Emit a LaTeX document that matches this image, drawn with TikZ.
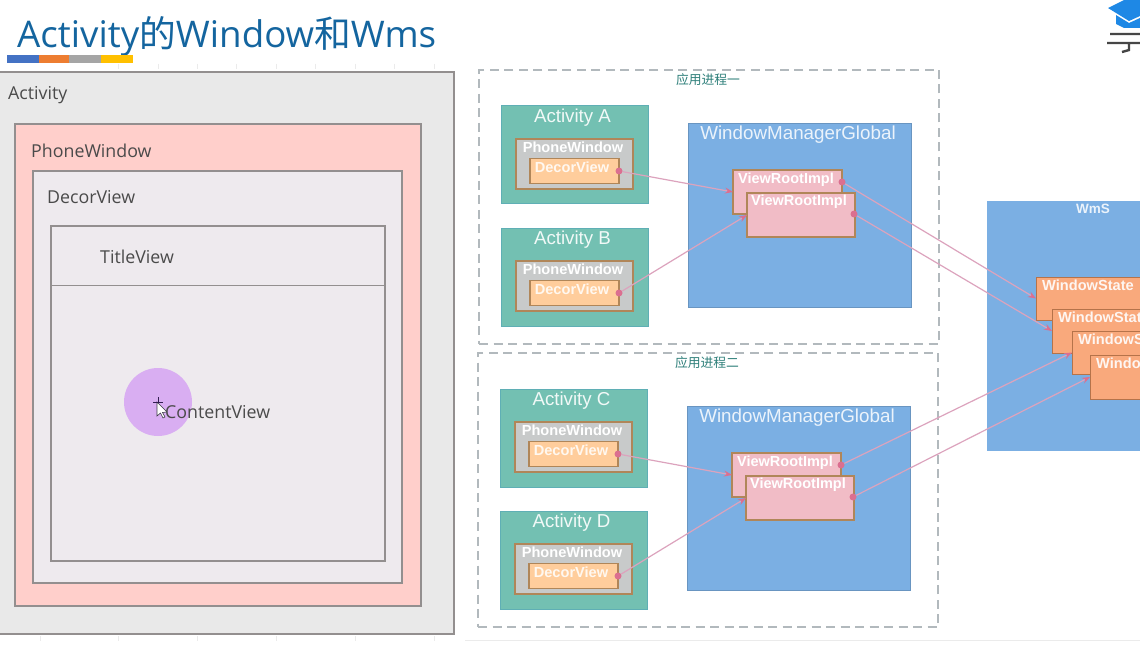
\documentclass[tikz,border=0pt]{standalone}
\usepackage{fontspec}
\setmainfont{Open Sans}
\newfontfamily\cjk{Noto Sans CJK SC}
\newfontfamily\arl{Liberation Sans}
\definecolor{titleblue}{HTML}{14659F}
\definecolor{graypanel}{HTML}{E9E9E9}
\definecolor{pinkpanel}{HTML}{FFCFCB}
\definecolor{lightpanel}{HTML}{EEEAEE}
\definecolor{panelline}{HTML}{938F8F}
\definecolor{labeltext}{HTML}{4A4A4A}
\definecolor{teal}{HTML}{73C0B2}
\definecolor{tealline}{HTML}{5FAFB5}
\definecolor{phonegray}{HTML}{C8CACA}
\definecolor{brownline}{HTML}{B08659}
\definecolor{decor}{HTML}{FFCD9C}
\definecolor{wmblue}{HTML}{7BAFE3}
\definecolor{rootpink}{HTML}{F1BCC6}
\definecolor{wsorange}{HTML}{F9A97C}
\definecolor{wsline}{HTML}{B5734A}
\definecolor{conn}{HTML}{DCA3BD}
\definecolor{dotc}{HTML}{DB6F90}
\definecolor{dashc}{HTML}{B2B9BD}
\definecolor{greentext}{HTML}{2E7F7A}
\usetikzlibrary{arrows.meta}
\tikzset{
  bx/.style={anchor=north west,inner sep=0pt,outer sep=0pt},
  panel/.style={bx,draw=panelline,line width=2.2pt},
  plabel/.style={anchor=west,inner sep=0pt,text=labeltext,font=\fontsize{17.8}{20}\selectfont},
  procbox/.style={bx,draw=dashc,dash pattern=on 9pt off 5.5pt,line width=1.1pt},
  proclabel/.style={inner sep=0pt,text=greentext,font=\cjk\fontsize{12.8}{14}\selectfont},
  actbox/.style={bx,fill=teal,draw=tealline,line width=1pt,minimum width=147pt,minimum height=98pt},
  actlabel/.style={inner sep=0pt,text=white!90!teal,font=\arl\fontsize{18.7}{20}\selectfont},
  phonebox/.style={bx,fill=phonegray,draw=brownline,line width=1.1pt,minimum width=117pt,minimum height=50pt},
  phonelabel/.style={inner sep=0pt,text=white,font=\arl\bfseries\fontsize{14.6}{15}\selectfont},
  decorbox/.style={bx,fill=decor,draw=brownline,line width=1.1pt,minimum width=89pt,minimum height=25pt},
  decorlabel/.style={inner sep=0pt,text=white!85!decor,font=\arl\bfseries\fontsize{14.6}{15}\selectfont},
  wmbox/.style={bx,fill=wmblue,draw=wmblue!85!black,line width=.6pt,minimum width=223pt,minimum height=184pt},
  wmlabel/.style={inner sep=0pt,text=white!85!wmblue,font=\arl\fontsize{18.8}{20}\selectfont},
  rootbox/.style={bx,fill=rootpink,draw=brownline,line width=1.1pt,minimum width=108pt,minimum height=44pt},
  rootlabel/.style={inner sep=0pt,text=white,font=\arl\bfseries\fontsize{14.5}{15}\selectfont},
  wsbox/.style={bx,fill=wsorange,draw=wsline,line width=1pt,minimum width=120pt,minimum height=43pt},
  wslabel/.style={anchor=west,inner sep=0pt,text=white!90!wsorange,font=\arl\bfseries\fontsize{14.6}{15}\selectfont},
  pdot/.style={circle,fill=dotc,inner sep=0pt,minimum size=7pt},
  link/.style={conn,line width=1.2pt,-{Stealth[length=8pt,width=6pt,color=dotc]}},
  tick/.style={black!8,line width=.7pt}
}
\begin{document}
\begin{tikzpicture}[x=1pt,y=-1pt]
\useasboundingbox (0,0) rectangle (1140,647);
\clip (0,0) rectangle (1140,647);
\fill[white] (0,0) rectangle (1140,647);
% faint page edge and ruler ticks
\draw[black!8,line width=.8pt] (465,640) -- (1140,640);
\foreach \xx in {118,158,197,236,276,315,355,394,434}{\draw[tick] (\xx,64) -- (\xx,69);}
\foreach \xx in {40,118,197,276,355,434}{\draw[tick] (\xx,636) -- (\xx,641);}
% title
\node[anchor=west,inner sep=0pt,text=titleblue,font=\fontsize{36.7}{40}\selectfont] (title) at (17,36) {Activity{\cjk 的}Window{\cjk 和}Wms};
\fill[color={rgb,255:red,68;green,114;blue,196}] (7,55) rectangle (39,63);
\fill[color={rgb,255:red,237;green,125;blue,49}] (39,55) rectangle (69,63);
\fill[color={rgb,255:red,165;green,165;blue,165}] (69,55) rectangle (101,63);
\fill[color={rgb,255:red,255;green,192;blue,0}] (101,55) rectangle (133,63);
% logo
\fill[color={rgb,255:red,30;green,136;blue,229}] (1108,8) -- (1124,0) -- (1140,0) -- (1140,16) -- (1129,21) -- cycle;
\fill[color={rgb,255:red,30;green,136;blue,229}] (1116,15) -- (1129,23) -- (1140,18) -- (1140,28) -- (1124,28) -- (1116,24) -- cycle;
\draw[color={rgb,255:red,70;green,70;blue,70},line width=2.4pt] (1110,34) -- (1140,34) (1107,43) -- (1140,43) (1129,43) -- (1129,50) -- (1122,52);
% left panels
\node[panel,fill=graypanel,minimum width=464pt,minimum height=562pt] (activity) at (-10,72) {};
\node[panel,fill=pinkpanel,minimum width=406pt,minimum height=482pt] (phone) at (15,124) {};
\node[panel,fill=lightpanel,minimum width=369pt,minimum height=412pt] (decorpanel) at (33,171) {};
\node[panel,fill=lightpanel,minimum width=334pt,minimum height=335pt] (inner) at (51,226) {};
\draw[panelline,line width=1pt] (inner.west |- 0,285) -- (inner.east |- 0,285);
\node[plabel] (l1) at (8,95) {Activity};
\node[plabel] (l2) at (31,150.5) {PhoneWindow};
\node[plabel] (l3) at (47,197.5) {DecorView};
\node[plabel] (l4) at (100,256.5) {TitleView};
\node[circle,fill={rgb,255:red,217;green,174;blue,242},minimum size=68pt,inner sep=0pt] (spot) at (158,402) {};
\node[plabel] (l5) at (165,412) {ContentView};
% cursor
\draw[color={rgb,255:red,60;green,60;blue,70},fill=white,line width=.6pt] (157,402) -- (157,416) -- (160.5,413) -- (163,418) -- (165,417) -- (162.5,412.5) -- (167,412) -- cycle;
\draw[color={rgb,255:red,50;green,30;blue,80},line width=.8pt] (158,397) -- (158,402) (153,402) -- (163,402);
% process frames
\node[procbox,minimum width=460pt,minimum height=274pt] (p1) at (479,70) {};
\node[procbox,minimum width=460pt,minimum height=274pt] (p2) at (478,353) {};
\node[proclabel] (p1l) at (708,79.5) {应用进程一};
\node[proclabel] (p2l) at (707,362.5) {应用进程二};
% WMS (under the connectors)
\node[bx,fill=wmblue,minimum width=170pt,minimum height=250pt] (wms) at (987,201) {};
\node[inner sep=0pt,text=white!85!wmblue,font=\arl\bfseries\fontsize{13.5}{15}\selectfont] (wmsl) at (1093,208.5) {WmS};
\foreach \n/\xx/\yy/\h in {ws1/1036/277/43,ws2/1052/309/44,ws3/1072/331/43,ws4/1090/355/44}{
  \node[wsbox,minimum height=\h pt] (\n) at (\xx,\yy) {};
  \node[wslabel] (\n l) at (\xx+6,\yy+8) {WindowState};
}
% activity groups
\foreach \n/\l/\dx/\dy in {a/A/0/0,b/B/0/122,c/C/-1/283,d/D/-1/405}{
  \begin{scope}[shift={(\dx,\dy)}]
  \node[actbox] (act\n) at (501,106) {};
  \node[actlabel] (act\n l) at (572.5,118) {Activity \l};
  \node[phonebox] (ph\n) at (516,139) {};
  \node[phonelabel] (ph\n l) at (573,147) {PhoneWindow};
  \node[decorbox] (de\n) at (530,158.5) {};
  \node[decorlabel] (de\n l) at (572,167.5) {DecorView};
  \node[pdot] (dot\n) at (619,171) {};
  \end{scope}
}
% window managers
\foreach \n/\dx/\dy in {x/0/0,y/-1/283}{
  \begin{scope}[shift={(\dx,\dy)}]
  \node[wmbox] (wm\n) at (688,123) {};
  \node[wmlabel] (wm\n l) at (798,134.5) {WindowManagerGlobal};
  \node[rootbox,minimum width=109pt] (ra\n) at (733,170) {};
  \node[rootlabel] (ra\n l) at (786,179.5) {ViewRootImpl};
  \node[rootbox,minimum width=108pt] (rb\n) at (747,193) {};
  \node[rootlabel] (rb\n l) at (799,201.5) {ViewRootImpl};
  \node[pdot] (da\n) at (842,182) {};
  \node[pdot] (db\n) at (854,214) {};
  \end{scope}
}
% connectors
\draw[link] (dota) -- (rax.west);
\draw[link] (dotb) -- (rbx.west);
\draw[link] (dotc) -- (ray.west);
\draw[link] (dotd) -- (rby.west);
\draw[link] (dax) -- (ws1.west);
\draw[link] (dbx) -- (ws2.west);
\draw[link] (day) -- (ws3.west);
\draw[link] (dby) -- (ws4.west);
\end{tikzpicture}
\end{document}
